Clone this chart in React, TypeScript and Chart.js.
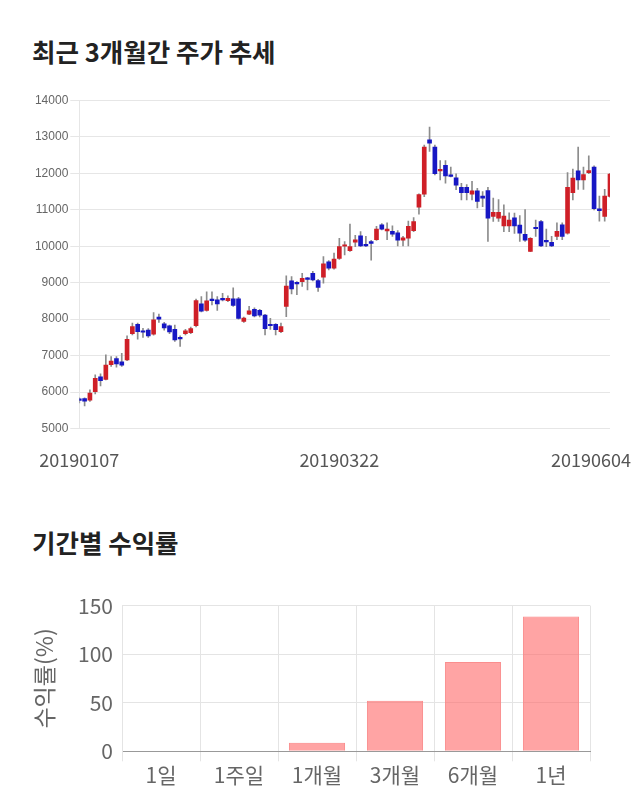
import React, { useEffect, useRef } from 'react';
import { Chart, registerables } from 'chart.js';

Chart.register(...registerables);

const FONT = '"Noto Sans CJK KR", "Noto Sans", sans-serif';
const TICK_FONT = '"Liberation Sans", Arial, sans-serif';

// Daily candles (open / high / low / close), 2019-01-07 .. 2019-06-04
const candleOpen = [
  5800, 5820, 5780, 6010, 6420, 6350, 6750, 6920, 6830, 6880,
  7600, 7860, 7680, 7700, 7590, 8060, 7870, 7820, 7720, 7490,
  7600, 7630, 7820, 8420, 8240, 8530, 8530, 8550, 8510, 8560,
  8560, 7940, 8140, 8270, 8240, 8110, 7840, 7860, 7660, 8350,
  9050, 9000, 9030, 9110, 9260, 9060, 9150, 9570, 9400, 9670,
  10000, 9880, 10110, 10290, 10050, 10130, 10180, 10590, 10420, 10410,
  10370, 10170, 10220, 10430, 11070, 11430, 12920, 12720, 12070, 12220,
  11950, 11880, 11620, 11620, 11430, 11520, 11380, 11530, 10820, 10770,
  10560, 10560, 10780, 10580, 10330, 9860, 10520, 10680, 10140, 10110,
  10270, 10590, 10360, 11470, 12070, 11820, 12020, 12170, 11030, 10820,
  11370,
];
const candleHigh = [
  5840, 5840, 6060, 6470, 6500, 7020, 6970, 6970, 7060, 7540,
  7890, 7890, 7750, 7740, 8180, 8140, 7910, 7840, 7840, 7540,
  7720, 7780, 8550, 8620, 8750, 8750, 8620, 8710, 8640, 8860,
  8600, 8060, 8350, 8310, 8270, 8130, 8020, 7880, 7890, 9190,
  9170, 9030, 9260, 9150, 9310, 9090, 9720, 9610, 9810, 10220,
  10130, 10610, 10300, 10400, 10270, 10160, 10550, 10620, 10640, 10560,
  10430, 10270, 10690, 10790, 11440, 12780, 13270, 12780, 12350, 12350,
  12170, 11990, 11730, 11690, 11780, 11590, 11500, 11620, 11320, 11280,
  11140, 10920, 10910, 10840, 11010, 10240, 10720, 10710, 10470, 10270,
  10640, 10640, 12020, 12120, 12720, 12170, 12480, 12210, 11380, 11560,
  12000,
];
const candleLow = [
  5700, 5620, 5740, 5950, 6170, 6330, 6700, 6680, 6700, 6860,
  7570, 7450, 7500, 7500, 7560, 7910, 7700, 7600, 7390, 7250,
  7570, 7600, 7790, 8200, 8220, 8390, 8240, 8500, 8480, 8350,
  8000, 7910, 8120, 8060, 8060, 7570, 7720, 7570, 7630, 8070,
  8690, 8670, 8900, 8800, 9050, 8760, 8990, 9350, 9370, 9640,
  9760, 9860, 9990, 9990, 9990, 9620, 10160, 10450, 10180, 10270,
  10010, 10010, 10010, 10400, 10880, 11360, 12600, 11960, 11820, 11730,
  11900, 11550, 11270, 11270, 11270, 11050, 11090, 10130, 10680, 10680,
  10400, 10400, 10350, 10130, 10130, 9850, 10270, 9990, 9990, 9990,
  10180, 10180, 10330, 11270, 11560, 11560, 11990, 11000, 10690, 10690,
  11350,
];
const candleClose = [
  5770, 5750, 5970, 6380, 6310, 6740, 6850, 6770, 6740, 7450,
  7800, 7660, 7640, 7540, 7980, 8000, 7760, 7650, 7430, 7460,
  7680, 7740, 8510, 8220, 8500, 8510, 8420, 8530, 8570, 8380,
  8020, 8030, 8230, 8090, 8110, 7740, 7820, 7710, 7800, 8910,
  8830, 8970, 9120, 9090, 9080, 8870, 9520, 9400, 9650, 9990,
  10030, 9990, 10180, 10010, 10010, 10080, 10470, 10470, 10470, 10330,
  10170, 10230, 10550, 10680, 11420, 12720, 12830, 11990, 12110, 11930,
  11920, 11680, 11470, 11470, 11520, 11230, 11320, 10770, 10930, 10930,
  10830, 10720, 10560, 10360, 10170, 10220, 10480, 10010, 10120, 10010,
  10410, 10270, 11620, 11870, 11820, 11970, 12080, 11030, 10980, 11380,
  11980,
];
const dateTickLabels = ['20190107', '20190322', '20190604'];
const dateTickIndex = [0, 49, 100];
const priceMin = 5000;
const priceMax = 14000;
const priceStep = 1000;

const periodLabels = ['1일', '1주일', '1개월', '3개월', '6개월', '1년'];
const periodReturns = [0, 0, 8.9, 52.0, 92.0, 138.8];

const UP = '#cf1f27';
const DOWN = '#1717c4';

const xLabelPlugin = {
  id: 'dateLabels',
  afterDraw(chart: any) {
    const ctx = chart.ctx;
    const xs = chart.scales.x;
    const y = chart.chartArea.bottom + 32;
    ctx.save();
    ctx.font = `18px ${FONT}`;
    ctx.fillStyle = '#555';
    ctx.textBaseline = 'middle';
    ctx.textAlign = 'left';
    dateTickLabels.forEach((t, k) => {
      const x = xs.getPixelForValue(dateTickIndex[k]);
      const w = ctx.measureText(t).width;
      let left = x - w / 2;
      if (left + w > chart.width - 9) left = chart.width - 9 - w;
      if (left < 0) left = 0;
      ctx.fillText(t, left, y);
    });
    ctx.restore();
  },
};

function CandleChart() {
  const ref = useRef<HTMLCanvasElement>(null);
  useEffect(() => {
    const labels = candleOpen.map((_, i) => String(i));
    const bodies = candleOpen.map((o, i) => [Math.min(o, candleClose[i]), Math.max(o, candleClose[i])]);
    const colors = candleOpen.map((o, i) => (candleClose[i] >= o ? UP : DOWN));
    const wicks = candleLow.map((l, i) => [l, candleHigh[i]]);
    const chart = new Chart(ref.current as HTMLCanvasElement, {
      type: 'bar',
      data: {
        labels,
        datasets: [
          { data: bodies as any, backgroundColor: colors, barThickness: 4, minBarLength: 1.5, grouped: false, order: 0 } as any,
          { data: wicks as any, backgroundColor: '#8c8c8c', barThickness: 1, grouped: false, order: 1 } as any,
        ],
      },
      options: {
        animation: false,
        responsive: false,
        maintainAspectRatio: false,
        layout: { padding: { top: 15.5, right: 30, left: 0, bottom: 0 } },
        plugins: { legend: { display: false }, tooltip: { enabled: false } },
        scales: {
          x: {
            offset: false,
            grid: { display: false },
            ticks: { display: false },
            border: { display: false },
            afterFit: (s: any) => { s.height = 56.5; },
          } as any,
          y: {
            min: priceMin,
            max: priceMax,
            ticks: {
              stepSize: priceStep,
              color: '#666',
              font: { size: 12, family: TICK_FONT },
              padding: 2,
              callback: (v: any) => String(v),
            },
            grid: { color: '#e6e6e6', tickLength: 9 },
            border: { color: '#e6e6e6' },
            afterFit: (s: any) => { s.width = 79.3; },
          } as any,
        },
      },
      plugins: [xLabelPlugin],
    });
    return () => chart.destroy();
  }, []);
  return (
    <canvas
      ref={ref}
      width={640}
      height={400}
      style={{ position: 'absolute', left: 0, top: 85, width: 640, height: 400 }}
    />
  );
}

function ReturnChart() {
  const ref = useRef<HTMLCanvasElement>(null);
  useEffect(() => {
    const chart = new Chart(ref.current as HTMLCanvasElement, {
      type: 'bar',
      data: {
        labels: periodLabels,
        datasets: [
          {
            data: periodReturns,
            backgroundColor: 'rgba(255, 99, 99, 0.58)',
            borderColor: 'rgba(250, 130, 130, 0.9)',
            borderWidth: 1,
          },
        ],
      },
      options: {
        animation: false,
        responsive: false,
        maintainAspectRatio: false,
        layout: { padding: { top: 15, right: 50, left: 28, bottom: 0 } },
        plugins: { legend: { display: false }, tooltip: { enabled: false } },
        scales: {
          x: {
            grid: { color: '#e4e4e4', tickLength: 10 },
            border: { color: '#999' },
            ticks: { color: '#666', font: { size: 21, family: FONT }, padding: 1 },
            afterFit: (s: any) => { s.height = 48.7; },
          } as any,
          y: {
            min: 0,
            max: 150,
            ticks: {
              stepSize: 50,
              color: '#666',
              font: { size: 21, family: FONT },
              padding: 9,
            },
            grid: { color: '#e4e4e4', drawTicks: false },
            border: { color: '#e4e4e4' },
            title: {
              display: true,
              text: '수익률(%)',
              color: '#666',
              font: { size: 23, family: FONT },
              padding: { top: 2, bottom: 2 },
            },
            afterFit: (s: any) => { s.width = 94; },
          } as any,
        },
      },
    });
    return () => chart.destroy();
  }, []);
  return (
    <canvas
      ref={ref}
      width={640}
      height={216}
      style={{ position: 'absolute', left: 0, top: 584, width: 640, height: 216 }}
    />
  );
}

const titleStyle: React.CSSProperties = {
  position: 'absolute',
  left: 32,
  fontFamily: FONT,
  fontWeight: 700,
  fontSize: 25.5,
  lineHeight: '28px',
  color: '#222',
  whiteSpace: 'nowrap',
};

export default function App() {
  return (
    <div style={{ position: 'absolute', left: 0, top: 0, width: 640, height: 810, background: '#fff' }}>
      <div style={{ ...titleStyle, top: 37 }}>최근 3개월간 주가 추세</div>
      <CandleChart />
      <div style={{ ...titleStyle, top: 528 }}>기간별 수익률</div>
      <ReturnChart />
    </div>
  );
}
